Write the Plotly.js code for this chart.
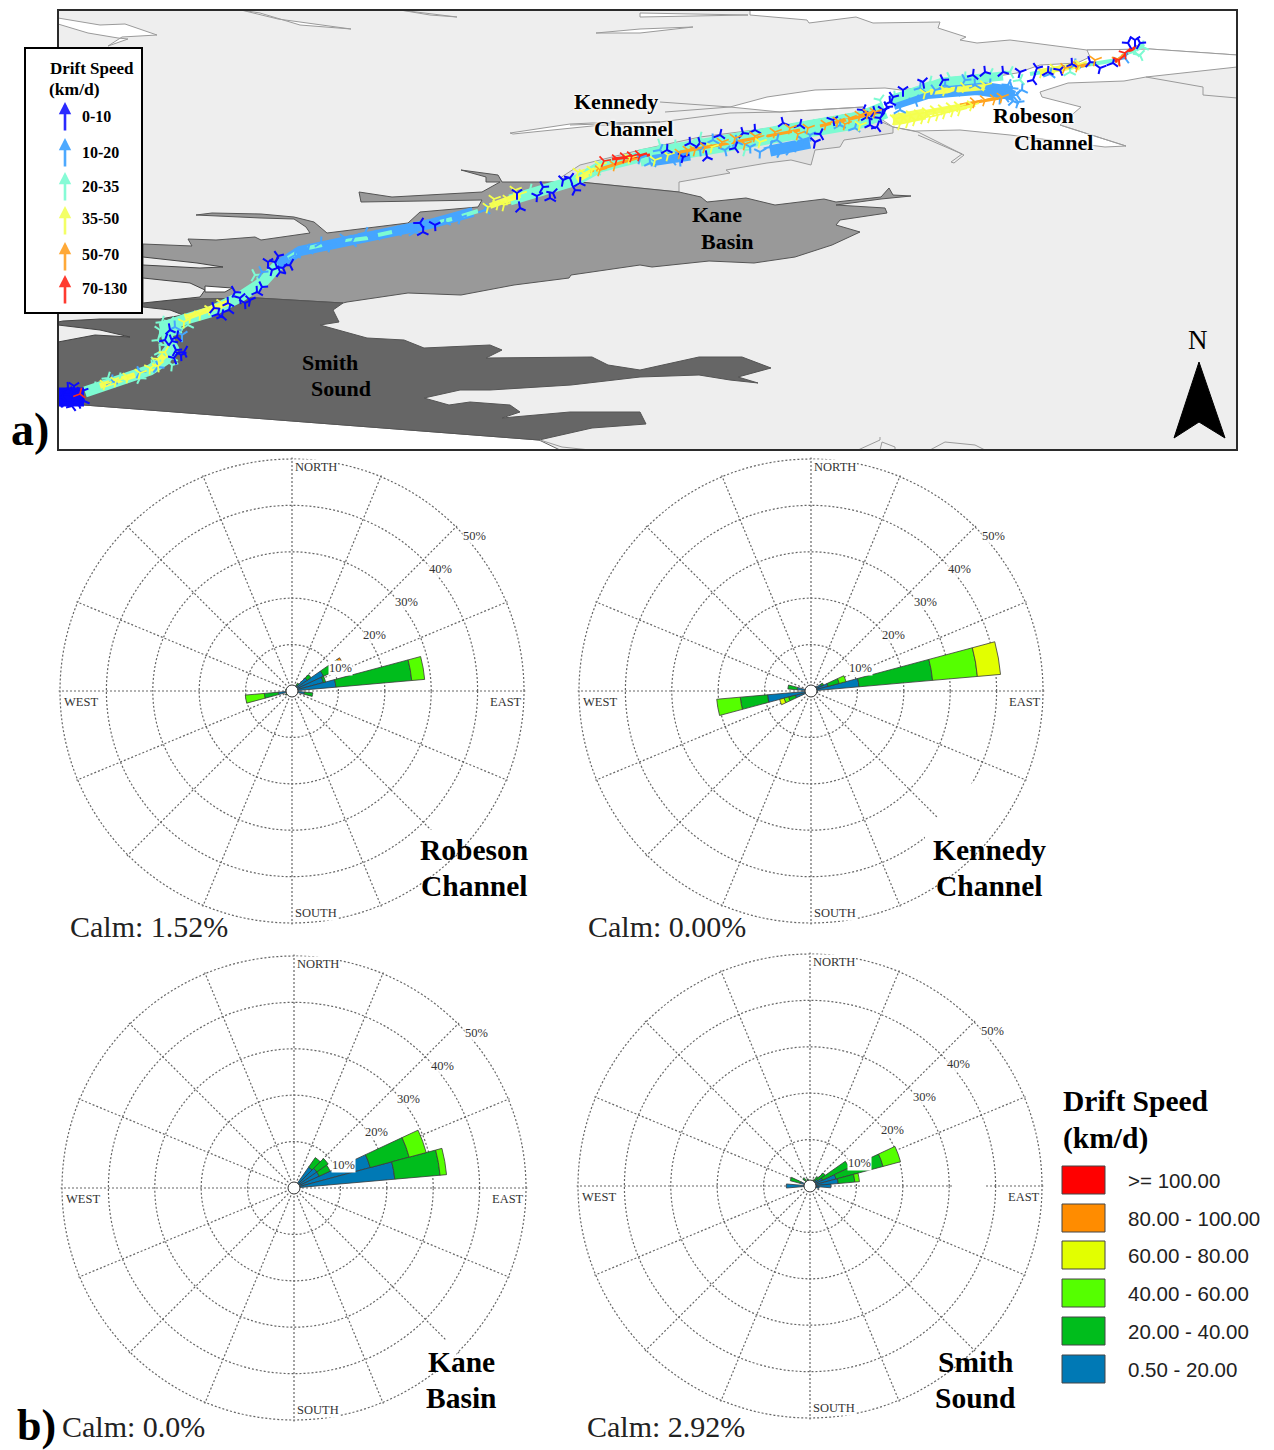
<!DOCTYPE html>
<html><head><meta charset="utf-8">
<script src="https://cdn.plot.ly/plotly-3.0.1.min.js"></script>
<style>html,body{margin:0;padding:0;background:#fff}</style></head>
<body><div id="chart" style="width:1274px;height:1450px"></div>
<script>
// ---------- wind-rose data (percent of observations per 10 degree bin) ----------
const speedClasses = ['0.50 - 20.00','20.00 - 40.00','40.00 - 60.00','60.00 - 80.00','80.00 - 100.00','>= 100.00'];
const speedColors  = ['#0079b5','#00bd1c','#55ff00','#e2ff00','#ff8c00','#ff0000'];
const legendOrder  = ['>= 100.00','80.00 - 100.00','60.00 - 80.00','40.00 - 60.00','20.00 - 40.00','0.50 - 20.00'];

const robesonTheta = [40,  50,  60,  70,  80,  100, 240, 260, 280];
const robesonBlue  = [1.5, 4,   7.5, 7,   9.5, 2.7, 1,   3,   1  ];
const robesonGreen = [0.6, 1,   2.5, 0.5, 16.4,1.8, 0.6, 3,   0.4];
const robesonLime  = [0,   0,   1.5, 0,   2.8, 0,   0,   4.1, 0  ];
const robesonYellow= [0,   0,   0.4, 0,   0,   0,   0,   0,   0  ];
const robesonOrange= [0,   0,   0.6, 0,   0,   0,   0,   0,   0  ];

const kennedyTheta = [50,  60,  70,  80,  100, 250, 260, 280];
const kennedyBlue  = [1.5, 2.5, 3.8, 10.4,1.5, 3.5, 9.4, 3  ];
const kennedyGreen = [0,   0.5, 2.5, 15.9,0,   1.5, 5.9, 2  ];
const kennedyLime  = [0,   0,   1.5, 9.7, 0,   1,   5.1, 0  ];
const kennedyYellow= [0,   0,   0,   5,   0,   1,   0,   0  ];

const kaneTheta = [40,  50,  60,  70,  80 ];
const kaneBlue  = [5.5, 6,   6,   17,  21.8];
const kaneGreen = [2.5, 3,   2.6, 8.7, 9.8];
const kaneLime  = [0,   0,   0,   3.8, 1.4];

const smithTheta = [30,  40,  50,  60,  70,  80,  90,  100, 270, 290, 320, 340];
const smithBlue  = [1,   1.5, 2,   3,   5.8, 6.1, 4.5, 2,   5.1, 2.2, 0.8, 1  ];
const smithGreen = [0.5, 1,   2,   6.3, 10.5,3.6, 0,   0,   0,   2.2, 1.4, 0.6];
const smithLime  = [0,   0,   0,   0,   3.9, 1,   0,   0,   0,   0,   0,   0  ];

const spokeAngles = [0,22.5,45,67.5,90,112.5,135,157.5,180,202.5,225,247.5,270,292.5,315,337.5];
const ringValues  = [10,20,30,40,50];
const ringLabels  = ['10%','20%','30%','40%','50%'];
const calmLabels  = ['Calm: 1.52%','Calm: 0.00%','Calm: 0.0%','Calm: 2.92%'];

// ---------- map outlines, in the picture's pixel frame ----------
const whiteNorth = [[750,10],[1237,10],[1237,55],[1150,49],[1087,50],[1010,40],[977,43],[960,40],[966,37],[938,28],[940,22],[873,23],[856,17],[809,23],[807,20],[750,15]];
const whiteChannel = [[1237,55],[1150,49],[1087,50],[1090,57],[1077,63],[1040,65],[1017,73],[985,78],[940,85],[901,90],[885,88],[815,90],[767,97],[730,107],[780,112],[863,107],[880,118],[893,127],[915,131],[960,130],[1010,135],[1105,147],[1126,146],[1101,138],[1060,125],[1081,107],[1042,97],[1040,92],[1068,83],[1124,81],[1146,77],[1237,67]];
const kennedyLower = [[560,178],[580,165],[640,150],[700,137],[770,128],[860,112],[893,127],[893,133],[844,140],[840,147],[815,150],[811,165],[791,160],[767,163],[726,170],[730,173],[679,182],[679,192],[580,182]];
const kaneBasin = [[143,244],[192,246],[188,239],[216,240],[255,237],[261,240],[310,233],[306,227],[294,219],[261,218],[196,215],[212,213],[261,214],[294,217],[314,222],[327,233],[408,223],[420,212],[478,207],[482,200],[361,202],[359,192],[392,197],[482,192],[500,182],[486,182],[486,177],[461,170],[498,175],[502,182],[580,182],[679,192],[701,197],[707,202],[746,198],[775,205],[824,199],[836,202],[881,197],[889,188],[893,195],[911,196],[881,199],[836,205],[885,208],[887,213],[840,220],[836,225],[860,232],[832,245],[795,257],[754,263],[709,261],[652,267],[640,265],[571,275],[569,278],[514,285],[461,295],[408,293],[347,302],[343,303],[257,298],[143,300]];
const smithSound = [[58,342],[58,300],[143,300],[257,298],[343,303],[333,310],[339,322],[320,325],[367,338],[404,340],[424,348],[490,345],[502,350],[486,358],[592,357],[608,365],[640,370],[699,357],[742,357],[771,368],[738,377],[758,383],[730,380],[699,375],[640,377],[571,385],[490,390],[460,390],[424,398],[449,405],[470,402],[510,405],[520,412],[502,418],[570,412],[640,412],[646,424],[592,428],[539,440],[84,405],[58,402]];
const smithIslandA = [[58,306],[143,307],[170,310],[183,315],[160,319],[100,319],[63,321],[58,322]];
const smithIslandB = [[58,325],[100,330],[130,337],[95,335],[58,342]];
const kaneIslandA = [[143,257],[197,263],[223,267],[200,268],[143,265]];
const kaneIslandB = [[143,278],[190,283],[205,290],[200,297],[143,303]];
const kaneIslandC = [[205,286],[232,288],[225,292],[205,292]];
const whiteSouth = [[58,402],[84,405],[539,440],[560,450],[58,450]];
const fjords = [
  [[58,18],[100,25],[125,24],[157,35],[122,37],[108,46],[128,39],[118,38],[88,33],[58,24]],
  [[241,10],[278,19],[351,29],[300,25],[260,13]],
  [[400,10],[457,17],[430,15]],
  [[596,33],[640,29],[693,27],[640,33]],
  [[640,13],[748,15],[640,17]],
  [[510,133],[570,124],[592,123],[660,122],[592,126],[513,134]]
];
const coastLines = [
  [[660,102],[730,107],[665,112]],
  [[570,125],[660,122],[730,113],[780,112],[863,107]],
  [[1146,77],[1203,87],[1203,95],[1237,98]],
  [[893,127],[918,132],[964,155],[954,163],[951,162],[962,154],[918,135]],
  [[1126,146],[1101,138],[1060,125]],
  [[880,437],[880,440],[858,450]],
  [[540,440],[562,447],[590,450]],
  [[880,450],[882,442],[895,447],[895,450]],
  [[930,450],[945,442],[975,445],[985,450]]
];
const northArrow = [[1199,362],[1225,438],[1199,422],[1174,438]];

// ---------- ice-arch track: ribbons and arrows by drift-speed class ----------
const ribbonCyan = [[85,392],[130,377],[150,370],[165,360],[173,348],[167,337],[165,327],[183,320],[210,312],[240,297],[263,282],[280,263],null,[510,200],[547,190],[577,180],[600,167],[640,157]];
const ribbonCyanBlob = [[162,350],[172,358],null,[163,330],[180,325]];
const ribbonCyanWide = [[640,158],[690,150],[750,141],[803,131],[860,120],[885,110]];
const ribbonCyanThin = [[1030,74],[1093,64],[1117,60],null,[1122,56],[1144,44],null,[288,258],[296,253],null,[308,248],[322,245],null,[345,241],[368,238],null,[378,235],[392,232],null,[440,222],[452,219],null,[462,216],[478,211]];
const ribbonUpper = [[890,100],[943,82],[1003,76]];
const ribbonLight = [[278,265],[300,251],[343,242],[393,232],[430,224],[473,212]];
const ribbonLightWide = [[893,103],[927,92],[977,88],[1012,93]];
const ribbonLightBlob = [[1004,92],[1014,96],null,[770,151],[810,143],null,[650,161],[690,155]];
const ribbonYellow = [[100,386],[135,375],null,[150,370],[165,355],null,[185,318],[230,302],null,[490,206],[520,195],null,[577,180],[600,167],null,[925,113],[943,110],[975,104],null,[930,92],[985,87],null,[1040,72],[1080,65]];
const ribbonYellowWide = [[893,120],[925,114]];
const ribbonOrange = [[590,172],[640,157],null,[680,152],[800,130],null,[820,126],[880,112],null,[1075,68],[1090,64],null,[960,105],[1000,98]];
const ribbonRed = [[612,159],[650,155],null,[1115,62],[1137,46]];
const ribbonBlue = [[58,397],[84,397]];

const arrowsBlue = [[60,391,20],[64,402,150],[68,388,300],[72,406,200],[75,391,10],[78,403,100],[82,391,250],[62,397,80],[70,395,330],[74,386,0],[84,401,170],[58,404,60],
 [165,340,200],[172,341,160],[176,350,30],[177,337,190],[181,355,120],[184,352,210],[174,358,340],[170,330,170],
 [214,308,40],[222,316,190],[229,310,70],[240,298,230],[250,300,10],[235,292,150],[257,292,300],[262,287,30],[268,262,0],[275,262,340],[283,268,100],[290,265,210],[280,272,160],[272,270,250],[278,256,20],[245,303,120],[228,303,300],[218,314,70],
 [420,223,90],[423,232,60],[435,225,120],[517,193,0],[520,208,170],[543,187,30],[550,198,300],[563,180,10],[575,190,150],[580,183,60],[553,193,100],[570,178,340],[537,196,240],
 [667,150,60],[683,157,250],[707,157,170],[690,143,300],[743,133,40],[783,123,290],[800,125,70],[833,120,110],[815,142,10],[820,134,330],[863,110,330],[877,127,200],[887,107,30],[893,97,20],[867,117,60],[883,110,250],[890,102,300],[875,112,40],[880,118,220],[870,125,300],[720,135,70],[755,130,300],[700,143,40],[735,148,200],
 [903,90,0],[923,82,350],[943,80,30],[973,75,310],[1003,72,50],[1033,80,200],[1037,68,20],[1060,70,100],[1090,62,40],[1100,68,250],[1113,63,70],[1135,40,0],[1128,43,330],[1140,43,30],[1048,72,60],[1072,64,300],[1020,72,250],[985,72,50]];
const arrowsLight = [[112,381,60],[140,372,30],[158,367,40],[182,335,0],[175,327,300],[262,272,30],[295,255,60],[308,250,70],[330,246,250],[352,242,80],[375,236,70],[402,230,250],[445,222,60],[460,218,250],[485,210,70],[321,243,60],[345,238,250],[365,233,80],[415,232,60],
 [640,158,250],[660,150,80],[680,160,120],[700,150,230],[713,140,300],[737,142,170],[750,147,120],[770,147,200],[777,140,70],[790,150,160],[803,140,250],[840,125,60],[780,152,150],[760,152,240],[725,150,110],[672,160,200],[650,163,300],[810,135,120],[855,128,70],
 [900,110,60],[915,100,340],[935,90,20],[955,92,70],[975,85,300],[990,85,60],[1000,90,120],[1005,97,200],[1012,88,40],[1017,95,90],[1013,101,170],[1008,85,330],[1018,102,140],[1022,90,60],[1000,98,240],[1050,74,70],[1075,65,60],[1125,58,200],[920,88,310],[945,85,60],[965,80,30]];
const arrowsCyan = [[95,388,60],[120,379,60],[165,328,300],[160,330,0],[170,322,340],[158,340,320],[172,358,60],[155,362,20],[160,352,300],[165,345,330],[188,325,60],[258,283,50],[255,275,30],[530,190,70],[595,172,60],[108,378,320],[140,378,150],[178,325,320],[162,322,320],[152,366,300],[172,365,130],
 [650,160,70],[675,146,60],[730,143,110],[765,137,70],[812,125,80],[850,125,150],[895,97,50],[950,78,30],[965,78,60],[990,74,330],[1020,80,80],[1070,72,60],[1135,52,80],[1143,47,60],[1140,55,100],[700,138,70],[745,150,140],[792,137,70],[832,128,60],[660,145,40],[1010,72,330],[930,82,70],[880,100,340]];
const arrowsYellow = [[105,384,250],[116,381,250],[128,377,250],[140,373,250],[150,368,240],[158,359,220],[165,352,210],[158,366,230],[190,317,240],[200,314,240],[210,309,245],[222,303,245],[184,322,240],[488,207,250],[498,204,250],[508,199,250],[520,194,250],[494,199,250],[504,205,250],[515,190,250],[584,173,250],[600,165,250],[630,158,250],[592,170,250],[578,172,250],
 [895,119,255],[903,117,255],[911,115,255],[919,114,255],[927,112,255],[935,110,255],[943,109,255],[951,107,255],[959,106,255],[900,124,255],[908,122,255],[915,120,255],[923,118,255],[930,117,255],[938,115,255],[945,113,255],[953,111,255],[960,110,255],[972,105,255],[925,93,250],[945,90,255],[965,87,260],[985,85,255],[1042,72,255],[1055,68,250],[1080,64,250],[655,160,250],[668,155,250],[712,147,250],[760,142,250],[860,125,250]];
const arrowsOrange = [[600,170,255],[615,165,250],[680,153,250],[695,150,250],[705,147,255],[722,142,250],[735,138,250],[755,136,250],[775,132,250],[790,128,250],[808,128,250],[826,124,250],[838,121,250],[850,118,250],[868,113,250],[875,112,250],[688,150,250],[745,144,250],[798,134,250],[845,124,250],[860,115,250],
 [975,102,255],[985,100,255],[995,99,255],[1002,97,250],[1065,68,260],[1078,66,255],[1095,60,250],[1118,59,230]];
const arrowsRed = [[604,161,260],[617,159,255],[625,157,255],[632,156,255],[640,155,255],[1125,53,230],[1119,60,230],[80,394,70]];

// ---------- helpers ----------
const W = 1274, H = 1450;
const px = x => x / W, py = y => 1 - y / H;
const SERIF = '"Liberation Serif", "Times New Roman", serif';
const SANS = '"Liberation Sans", Arial, sans-serif';
const xs = p => p.map(q => q ? q[0] : null), ys = p => p.map(q => q ? q[1] : null);

function poly(p, fill, line) {
  return {type:'scatter', x:xs(p).concat(p[0][0]), y:ys(p).concat(p[0][1]), mode:'lines', fill:'toself', fillcolor:fill,
    line:{color:line, width:1}, hoverinfo:'skip', showlegend:false, xaxis:'x', yaxis:'y'};
}
function stroke(p, color, width) {
  return {type:'scatter', x:xs(p), y:ys(p), mode:'lines', line:{color:color, width:width}, connectgaps:false,
    hoverinfo:'skip', showlegend:false, xaxis:'x', yaxis:'y'};
}
function arrows(p, color, size, width) {
  return {type:'scatter', x:xs(p), y:ys(p), mode:'markers',
    marker:{symbol:'y-down-open', size:size, angle:p.map(q=>q[2]), color:color, line:{color:color, width:width}},
    hoverinfo:'skip', showlegend:false, xaxis:'x', yaxis:'y'};
}
const traces = [];
traces.push(poly(whiteNorth,'#ffffff','#9a9a9a'));
traces.push(poly(whiteSouth,'#ffffff','#666'));
traces.push(poly(whiteChannel,'#ffffff','#9a9a9a'));
traces.push(poly(kennedyLower,'#e2e2e2','#9a9a9a'));
traces.push(poly(kaneBasin,'#999999','#555'));
traces.push(poly(smithSound,'#666666','#555'));
[smithIslandA,smithIslandB,kaneIslandA,kaneIslandB].forEach(p=>traces.push(poly(p,'#eeeeee','#444')));
traces.push(poly(kaneIslandC,'#ffffff','#444'));
fjords.forEach(p=>traces.push(poly(p,'#ffffff','#9a9a9a')));
coastLines.forEach(p=>traces.push(stroke(p,'#9a9a9a',1)));

traces.push(stroke(ribbonCyan,'#7dfbd2',11));
traces.push(stroke(ribbonCyanBlob,'#7dfbd2',17));
traces.push(stroke(ribbonLight,'#45a5ff',10));
traces.push(stroke(ribbonLightWide,'#45a5ff',14));
traces.push(stroke(ribbonUpper,'#7dfbd2',9));
traces.push(stroke(ribbonCyanWide,'#7dfbd2',17));
traces.push(stroke(ribbonLightBlob,'#45a5ff',11));
traces.push(stroke(ribbonCyanThin,'#7dfbd2',4));
traces.push(stroke(ribbonYellow,'#f4ff5a',6));
traces.push(stroke(ribbonYellowWide,'#f4ff5a',11));
traces.push(stroke(ribbonOrange,'#ffa31f',3));
traces.push(stroke(ribbonRed,'#ff2a1a',3));
traces.push(stroke(ribbonBlue,'#0a0aff',19));
traces.push(arrows(arrowsCyan,'#7dfbd2',9,2));
traces.push(arrows(arrowsLight,'#45a5ff',9,2));
traces.push(arrows(arrowsYellow,'#f4ff4d',9,1.8));
traces.push(arrows(arrowsBlue,'#0a0aff',8.5,2));
traces.push(arrows(arrowsOrange,'#ffa31f',9,1.6));
traces.push(arrows(arrowsRed,'#ff2a1a',9,1.7));
traces.push(poly(northArrow,'#000000','#000000'));

function rose(name, theta, series) {
  series.forEach((r,i)=>traces.push({type:'barpolar', subplot:name, theta:theta, r:r, width:theta.map(()=>10),
    name:speedClasses[i], marker:{color:speedColors[i], line:{color:'#3a3a3a', width:0.8}}, hoverinfo:'skip', showlegend:false}));
  traces.push({type:'scatterpolar', subplot:name, r:[0], theta:[0], mode:'markers',
    marker:{size:12, color:'#fff', line:{color:'#333', width:1}}, hoverinfo:'skip', showlegend:false});
}
rose('polar',  robesonTheta,[robesonBlue,robesonGreen,robesonLime,robesonYellow,robesonOrange]);
rose('polar2', kennedyTheta,[kennedyBlue,kennedyGreen,kennedyLime,kennedyYellow]);
rose('polar3', kaneTheta,[kaneBlue,kaneGreen,kaneLime]);
rose('polar4', smithTheta,[smithBlue,smithGreen,smithLime]);

const RMAX = 50.3;
const R = 232 * RMAX / 50;
function polarLayout(cx,cy) {
  return {domain:{x:[px(cx-R),px(cx+R)], y:[py(cy+R),py(cy-R)]}, bgcolor:'#fff', barmode:'stack',
    radialaxis:{range:[0,RMAX], tickmode:'array', tickvals:ringValues, showticklabels:false, ticks:'', showline:false,
      gridcolor:'#666', griddash:'2px,2px', gridwidth:1.2},
    angularaxis:{direction:'clockwise', rotation:90, tickmode:'array', tickvals:spokeAngles, showticklabels:false, ticks:'',
      showline:false, gridcolor:'#666', griddash:'2px,2px', gridwidth:1.2}};
}
const annotations = [];
function label(text,x,y,size,opt={}) {
  annotations.push(Object.assign({xref:'paper',yref:'paper',x:px(x),y:py(y),text:text,showarrow:false,
    xanchor:opt.left?'left':'center',yanchor:'middle',borderpad:0,
    font:{family:opt.family||SERIF,size:size,color:opt.color||'#000',shadow:opt.shadow||'none'}},
    opt.bg?{bgcolor:opt.bg}:{}));
}
const b = t => '<b>'+t+'</b>';
const GLOW = '0 0 3px #fff, 0 0 3px #fff, 0 0 4px #fff';
// map labels
[['Kennedy',616,102],['Channel',633,128],['Robeson',1033,116],['Channel',1053,142],['Kane',717,215],['Basin',727,241],['Smith',330,362],['Sound',341,388]]
  .forEach(t=>label(b(t[0]),t[1],t[2],22,{shadow:(t[0]==='Smith'||t[0]==='Sound'||t[0]==='Kane'||t[0]==='Basin')?'none':GLOW}));
label('N',1198,340,27);
label(b('a)'),30,430,46); label(b('b)'),36,1425,44);
// map legend
label(b('Drift Speed'),49,69,17,{left:true}); label(b('(km/d)'),48,89,17.5,{left:true});
const mapLegendLabels = ['0-10','10-20','20-35','35-50','50-70','70-130'];
const mapLegendColors = ['#2a2aff','#4da9ff','#86fbd6','#f3ff66','#ffa938','#ff3b30'];
const mapLegendY = [117,152,187,218,254,289];
const mapLegendTip = [102,138,172,206,242,275];
mapLegendLabels.forEach((t,i)=>{
  label(b(t),81,mapLegendY[i],16,{left:true});
  annotations.push({xref:'paper',yref:'paper',x:px(65),y:py(mapLegendTip[i]),axref:'pixel',ayref:'pixel',ax:0,ay:30,text:'',
    showarrow:true,arrowhead:2,arrowsize:0.95,arrowwidth:2.6,arrowcolor:mapLegendColors[i],standoff:0,startstandoff:0});
});
// rose labels
const roseCentres = [[292,691],[811,691],[294,1188],[810,1186]];
const ringOffsets = [[49,-23],[82,-56],[114,-89],[148,-122],[182,-155]];
roseCentres.forEach(c=>{
  ringLabels.forEach((t,i)=>label(t,c[0]+ringOffsets[i][0],c[1]+ringOffsets[i][1],12.5,{color:'#333',bg:i<1?'#fff':'rgba(255,255,255,0.85)'}));
  label('NORTH',c[0]+24,c[1]-224,12.5,{color:'#333',bg:'#fff'});
  label('SOUTH',c[0]+24,c[1]+222,12.5,{color:'#333',bg:'#fff'});
  label('WEST',c[0]-211,c[1]+11,12.5,{color:'#333',bg:'#fff'});
  label('EAST',c[0]+214,c[1]+11,12.5,{color:'#333',bg:'#fff'});
});
[['Robeson',474,850],['Channel',474,886],['Kennedy',989,850],['Channel',989,886],['Kane',461,1362],['Basin',461,1398],['Smith',975,1362],['Sound',975,1398]]
  .forEach(t=>label(b(t[0]),t[1],t[2],29.5));
[[69,926],[587,926],[61,1426],[586,1426]].forEach((p,i)=>label(calmLabels[i],p[0],p[1],30,{left:true,color:'#222'}));
// rose legend
label(b('Drift Speed'),1062,1101,29.5,{left:true}); label(b('(km/d)'),1062,1138,29.5,{left:true});
const legendTop = [1166,1204,1241,1279,1317,1355];
const shapes = [];
legendOrder.forEach((t,i)=>{
  const col = speedColors[speedClasses.indexOf(t)];
  shapes.push({type:'rect',xref:'paper',yref:'paper',x0:px(1062),x1:px(1105),y0:py(legendTop[i]),y1:py(legendTop[i]+28),
    fillcolor:col,line:{color:'#444',width:1}});
  label(t,1127,legendTop[i]+14.5,20.5,{left:true,family:SANS,color:'#222'});
});
// map frame and its legend box
shapes.push({type:'rect',xref:'paper',yref:'paper',x0:px(58),x1:px(1237),y0:py(450),y1:py(10),line:{color:'#2b2b2b',width:2},fillcolor:'rgba(0,0,0,0)',layer:'above'});
shapes.push({type:'rect',xref:'paper',yref:'paper',x0:px(25),x1:px(142),y0:py(313),y1:py(48),line:{color:'#000',width:2},fillcolor:'#fff',layer:'above'});
// white label patches that interrupt the rose grids
const gridPatches = [
  [[972,783],[1012,783],[985,835],[950,870],[925,870],[925,830]],
  [[418,830],[470,830],[435,868],[418,868]],
  [[427,1340],[465,1340],[445,1372],[427,1372]]
];
gridPatches.forEach(g=>shapes.push({type:'path',xref:'paper',yref:'paper',layer:'above',line:{width:0},fillcolor:'#fff',
  path:'M '+g.map(p=>px(p[0])+','+py(p[1])).join(' L ')+' Z'}));
shapes.push({type:'rect',xref:'paper',yref:'paper',layer:'above',line:{width:0},fillcolor:'#fff',x0:px(952),x1:px(985),y0:py(1200),y1:py(1172)});

const layout = {width:W,height:H,autosize:false,margin:{l:0,r:0,t:0,b:0},paper_bgcolor:'#fff',plot_bgcolor:'#eeeeee',showlegend:false,
  hovermode:false,
  xaxis:{domain:[px(58),px(1237)],range:[58,1237],visible:false,fixedrange:true},
  yaxis:{domain:[py(450),py(10)],range:[450,10],visible:false,fixedrange:true},
  polar:polarLayout(292,691),polar2:polarLayout(811,691),polar3:polarLayout(294,1188),polar4:polarLayout(810,1186),
  annotations:annotations,shapes:shapes};
Plotly.newPlot('chart',traces,layout,{staticPlot:true,displayModeBar:false});
</script></body></html>
